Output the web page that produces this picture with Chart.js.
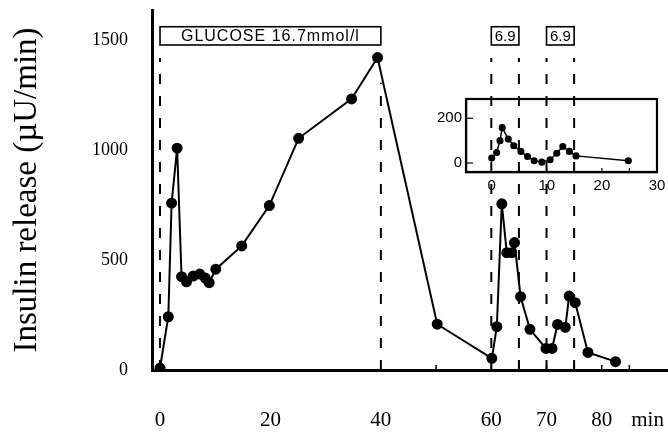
<!DOCTYPE html>
<html lang="en">
<head>
  <meta charset="UTF-8">
  <title>Insulin release</title>
  <script src="https://cdn.jsdelivr.net/npm/chart.js"></script>
  <style>
    body { margin: 0; background: #fff; }
    #wrap { position: relative; width: 668px; height: 434px; }
    #main { position: absolute; left: 0; top: 0; }
    #inset { position: absolute; left: 430px; top: 90px; }
  </style>
</head>
<body>
  <div id="wrap">
    <canvas id="main" width="668" height="434"></canvas>
    <canvas id="inset" width="238" height="110"></canvas>
  </div>

  <script>
    // main curve (min, µU/min)
    const mainTimes = [0, 1.5, 2.1, 3.1, 3.9, 4.8, 6.0, 7.2, 8.2, 8.9, 10.1, 14.8, 19.8, 25.1, 34.7, 39.4,
                       50.2, 60.1, 61.0, 61.9, 62.8, 63.7, 64.2, 65.3, 67.0, 69.9, 71.0, 72.0, 73.4, 74.1, 75.2, 77.5, 82.5];
    const mainRelease = [9, 242, 758, 1008, 424, 401, 427, 436, 418, 397, 458, 564, 747, 1053, 1232, 1420,
                         208, 53, 197, 755, 533, 533, 579, 333, 185, 98, 98, 207, 194, 336, 306, 80, 38];

    // inset curve
    const insetTimes = [0, 0.9, 1.5, 1.9, 3.0, 4.0, 5.3, 6.5, 7.7, 9.1, 10.6, 11.8, 12.9, 14.1, 15.3, 24.8];
    const insetRelease = [22, 47, 100, 158, 107, 77, 52, 29, 10, 4, 15, 44, 74, 52, 32, 10];

    // glucose stimulus markers
    const stimulusTimes = [0, 40, 60, 65, 70, 75];
    const stimulusTops = [1418, 1305, 1418, 1418, 1418, 1418];
    const boxStarts = [0, 60, 70];
    const boxEnds = [40, 65, 75];
    const boxLabels = ['GLUCOSE 16.7mmol/l', '6.9', '6.9'];

    // ticks
    const yTicks = [0, 500, 1000, 1500];
    const xTicks = [0, 20, 40, 60, 70, 80];
    const xUnit = 'min';
    const minorXTicks = [50, 60, 65, 70, 75, 80, 85];
    const insetXTicks = [0, 10, 20, 30];
    const insetYTicks = [0, 200];
    const insetMinorX = [5, 10, 15, 20, 25];

    const serif = '"Liberation Serif", "Times New Roman", serif';
    const sans = '"Liberation Sans", Arial, sans-serif';

    // no extra room for first/last labels, keep the plot area fixed
    const noPad = scale => {
      scale.paddingLeft = 0; scale.paddingRight = 0;
      scale.paddingTop = 0; scale.paddingBottom = 0;
    };

    // main dataset + one dashed dataset per stimulus line
    const mainDatasets = [{
      data: mainTimes.map((t, i) => ({ x: t, y: mainRelease[i] })),
      borderColor: '#000',
      backgroundColor: '#000',
      borderWidth: 2,
      pointRadius: 4.5,
      pointHoverRadius: 4.5,
      tension: 0
    }];
    stimulusTimes.forEach((t, i) => {
      mainDatasets.push({
        data: [{ x: t, y: 0 }, { x: t, y: stimulusTops[i] }],
        borderColor: '#000',
        borderWidth: 2,
        borderDash: [10, 12],
        pointRadius: 0
      });
    });

    // stimulus boxes and small axis ticks
    const boxPlugin = {
      id: 'boxes',
      afterDraw(chart) {
        const { ctx, scales: { x, y } } = chart;
        const top = y.getPixelForValue(1560);
        const bot = y.getPixelForValue(1477);
        ctx.save();
        ctx.strokeStyle = '#000';
        ctx.fillStyle = '#000';
        ctx.lineWidth = 1.6;
        boxStarts.forEach((s, i) => {
          const l = x.getPixelForValue(s);
          const r = x.getPixelForValue(boxEnds[i]);
          ctx.strokeRect(l, top, r - l, bot - top);
          ctx.font = (i === 0 ? '16px ' : '15px ') + sans;
          ctx.letterSpacing = i === 0 ? '1px' : '0px';
          ctx.textAlign = 'center';
          ctx.textBaseline = 'middle';
          ctx.fillText(boxLabels[i], (l + r) / 2, (top + bot) / 2 + 1);
        });
        ctx.lineWidth = 1.5;
        const base = y.getPixelForValue(0);
        minorXTicks.forEach(t => {
          const px = x.getPixelForValue(t);
          ctx.beginPath();
          ctx.moveTo(px, base);
          ctx.lineTo(px, base - 5);
          ctx.stroke();
        });
        ctx.restore();
      }
    };

    new Chart(document.getElementById('main'), {
      type: 'line',
      data: { datasets: mainDatasets },
      options: {
        responsive: false,
        animation: false,
        events: [],
        layout: { autoPadding: false, padding: { top: 10, right: 0, left: 0, bottom: 0 } },
        plugins: { legend: { display: false }, tooltip: { enabled: false } },
        scales: {
          x: {
            type: 'linear',
            min: -1.45,
            max: 92,
            afterBuildTicks: axis => {
              axis.ticks = xTicks.map(v => ({ value: v })).concat([{ value: 88.3 }]);
            },
            afterFit: scale => { scale.height = 64; noPad(scale); },
            grid: { display: false, drawTicks: false },
            border: { display: true, color: '#000', width: 3 },
            ticks: {
              autoSkip: false,
              maxRotation: 0,
              padding: 38,
              color: '#000',
              font: { family: serif, size: 21 },
              callback: v => (v === 88.3 ? xUnit : String(v))
            }
          },
          y: {
            min: 0,
            max: 1636,
            afterBuildTicks: axis => { axis.ticks = yTicks.map(v => ({ value: v })); },
            afterFit: scale => { scale.width = 152; noPad(scale); },
            grid: { display: false, drawTicks: false },
            border: { display: true, color: '#000', width: 3 },
            ticks: {
              padding: 24,
              color: '#000',
              font: { family: serif, size: 18 },
              callback: v => String(v)
            },
            title: {
              display: true,
              text: 'Insulin release (µU/min)',
              color: '#000',
              font: { family: serif, size: 33 },
              padding: { top: 8, bottom: 0 }
            }
          }
        }
      },
      plugins: [boxPlugin]
    });

    // inset frame with inward ticks
    const framePlugin = {
      id: 'frame',
      afterDraw(chart) {
        const { ctx, chartArea: a, scales: { x, y } } = chart;
        ctx.save();
        ctx.strokeStyle = '#000';
        ctx.lineWidth = 2.2;
        ctx.strokeRect(a.left, a.top, a.right - a.left, a.bottom - a.top);
        ctx.lineWidth = 1.2;
        insetMinorX.forEach(t => {
          const px = x.getPixelForValue(t);
          ctx.beginPath();
          ctx.moveTo(px, a.bottom);
          ctx.lineTo(px, a.bottom - 4);
          ctx.stroke();
        });
        insetYTicks.forEach(v => {
          const py = y.getPixelForValue(v);
          ctx.beginPath();
          ctx.moveTo(a.left, py);
          ctx.lineTo(a.left + 7, py);
          ctx.stroke();
        });
        ctx.restore();
      }
    };

    new Chart(document.getElementById('inset'), {
      type: 'line',
      data: {
        datasets: [{
          data: insetTimes.map((t, i) => ({ x: t, y: insetRelease[i] })),
          borderColor: '#000',
          backgroundColor: '#000',
          borderWidth: 1.5,
          pointRadius: 2.8,
          tension: 0
        }]
      },
      options: {
        responsive: false,
        animation: false,
        events: [],
        layout: { autoPadding: false, padding: { top: 9, right: 11, left: 0, bottom: 0 } },
        plugins: { legend: { display: false }, tooltip: { enabled: false } },
        scales: {
          x: {
            type: 'linear',
            min: -4.67,
            max: 30,
            afterBuildTicks: axis => { axis.ticks = insetXTicks.map(v => ({ value: v })); },
            afterFit: scale => { scale.height = 28; noPad(scale); },
            grid: { display: false, drawTicks: false },
            border: { display: true, color: '#000', width: 2.2 },
            ticks: { autoSkip: false, maxRotation: 0, padding: 5, color: '#000', font: { family: sans, size: 15 } }
          },
          y: {
            min: -40,
            max: 286,
            afterBuildTicks: axis => { axis.ticks = insetYTicks.map(v => ({ value: v })); },
            afterFit: scale => { scale.width = 36; noPad(scale); },
            grid: { display: false, drawTicks: false },
            border: { display: true, color: '#000', width: 2.2 },
            ticks: { padding: 4, color: '#000', font: { family: sans, size: 15 } }
          }
        }
      },
      plugins: [framePlugin]
    });
  </script>
</body>
</html>
